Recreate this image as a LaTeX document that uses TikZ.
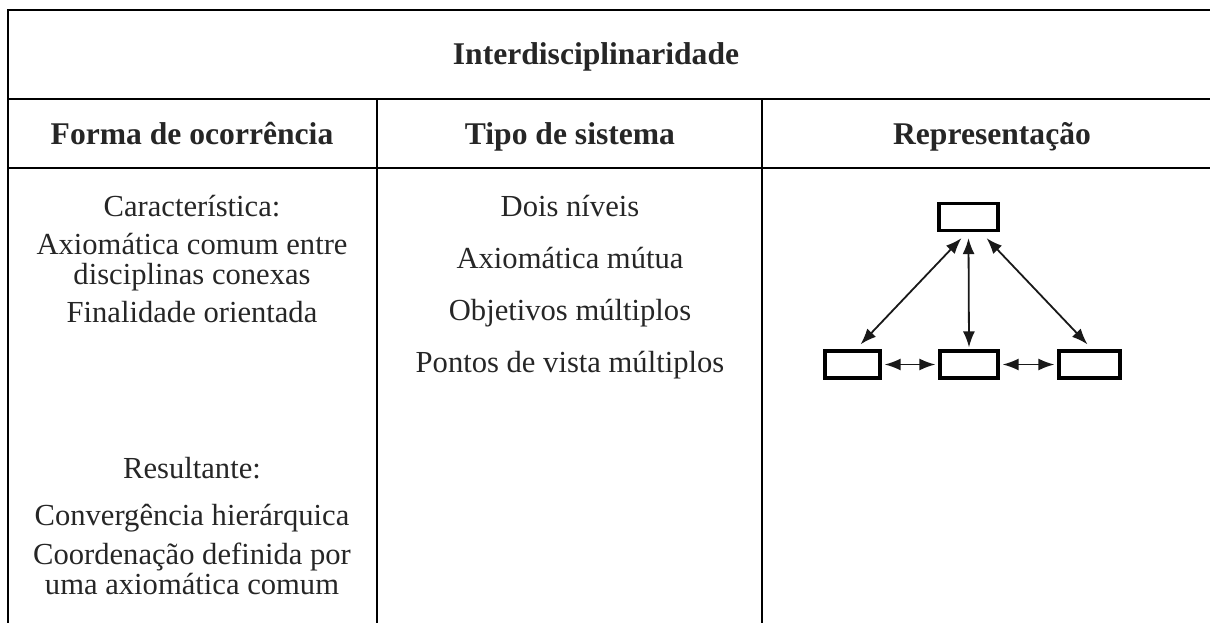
\documentclass[tikz,border=0pt]{standalone}
\usepackage{fontspec}
\setmainfont{Liberation Serif}
\usetikzlibrary{arrows.meta}
\begin{document}
\begin{tikzpicture}[x=1pt,y=-1pt,
  grid/.style={line width=2.8pt, black, line cap=rect},
  txt/.style={anchor=base, text=black!85, font=\fontsize{30.6}{34}\selectfont, inner sep=0pt},
  hd/.style={anchor=base, text=black!85, font=\fontsize{31.6}{36}\selectfont\bfseries, inner sep=0pt},
  rbox/.style={draw, line width=3.2pt, minimum height=27pt, inner sep=0pt},
  arr/.style={{Latex[length=16pt,width=12pt]}-{Latex[length=16pt,width=12pt]}, line width=1.8pt, black!90}]
\useasboundingbox (0,0) rectangle (1210,623);

% table grid
\coordinate (tl) at (8,10);
\coordinate (tr) at (1210,10);
\draw[grid] (tl) -- (tr);
\draw[grid] (tl) -- (8,623);
\draw[grid] (8,99) -- (1210,99);
\draw[grid] (8,168) -- (1210,168);
\draw[grid] (377,99) -- (377,623);
\draw[grid] (762,99) -- (762,623);

% headers
\node[hd] (title) at (596,65) {Interdisciplinaridade};
\node[hd] (h1) at (192,145) {Forma de ocorrência};
\node[hd] (h2) at (570,145) {Tipo de sistema};
\node[hd] (h3) at (992,145) {Representação};

% column 1
\node[txt] (c1a) at (192,216) {Característica:};
\node[txt] (c1b) at (192,254) {Axiomática comum entre};
\node[txt] (c1c) at (192,284) {disciplinas conexas};
\node[txt] (c1d) at (192,322) {Finalidade orientada};
\node[txt] (c1e) at (192,478) {Resultante:};
\node[txt] (c1f) at (192,525) {Convergência hierárquica};
\node[txt] (c1g) at (192,564) {Coordenação definida por};
\node[txt] (c1h) at (192,594) {uma axiomática comum};

% column 2
\node[txt] (c2a) at (570,216) {Dois níveis};
\node[txt] (c2b) at (570,268) {Axiomática mútua};
\node[txt] (c2c) at (570,320) {Objetivos múltiplos};
\node[txt] (c2d) at (570,372) {Pontos de vista múltiplos};

% representation diagram
\node[rbox, minimum width=59pt] (top) at (968.5,217) {};
\node[rbox, minimum width=55pt] (b1) at (852.5,364.5) {};
\node[rbox, minimum width=58pt] (b2) at (969,364.5) {};
\node[rbox, minimum width=61pt] (b3) at (1089.5,364.5) {};

\draw[arr] ([shift={(-7,6)}]top.south) -- ([shift={(8,-5)}]b1.north);
\draw[arr] ([shift={(0,6)}]top.south) -- ([shift={(0,-2)}]b2.north);
\draw[arr] ([shift={(18,6)}]top.south) -- ([shift={(-2,-5)}]b3.north);
\draw[arr] ([xshift=3]b1.east) -- ([xshift=-3]b2.west);
\draw[arr] ([xshift=3]b2.east) -- ([xshift=-3]b3.west);
\end{tikzpicture}
\end{document}
